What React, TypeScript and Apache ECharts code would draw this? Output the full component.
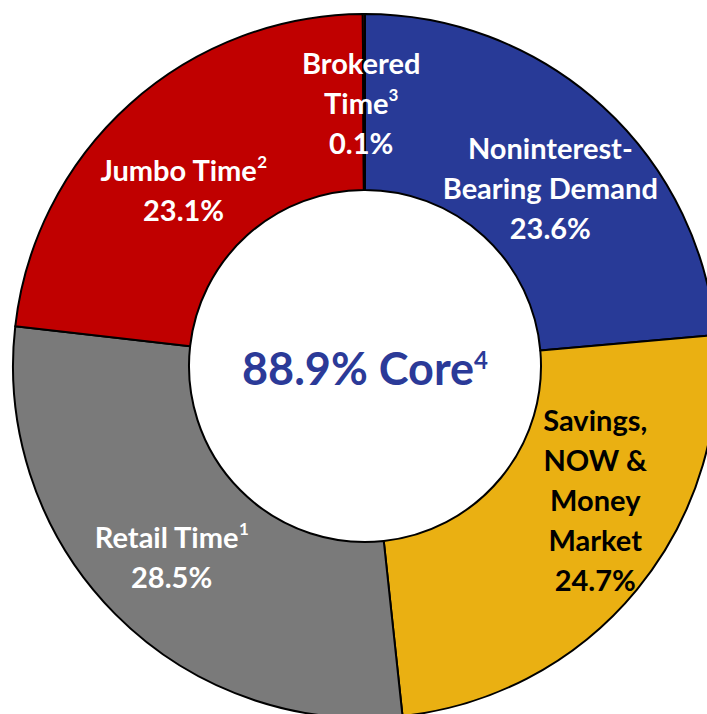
import React, { useEffect, useRef } from "react";
import * as echarts from "echarts";

const categories = [
  "Noninterest-Bearing Demand",
  "Savings, NOW & Money Market",
  "Retail Time",
  "Jumbo Time",
  "Brokered Time",
];
const values = [23.6, 24.7, 28.5, 23.1, 0.1];
const colors = ["#283A97", "#EAB012", "#7A7A7A", "#C00000", "#C00000"];
const labelColors = ["#FFFFFF", "#000000", "#FFFFFF", "#FFFFFF", "#FFFFFF"];
// label lines; the last word of a line may carry a footnote marker
const labelLines = [
  [["Noninterest-", ""], ["Bearing Demand", ""]],
  [["Savings,", ""], ["NOW &", ""], ["Money", ""], ["Market", ""]],
  [["Retail Time", "1"]],
  [["Jumbo Time", "2"]],
  [["Brokered", ""], ["Time", "3"]],
];
const labelShift = [
  [5, 18],
  [24, -36],
  [-4, 2],
  [-3, 22],
  [-3, 3],
];
const centerText = "88.9% Core";
const centerNote = "4";

const FONT = "Lato";

export default function App() {
  const ref = useRef<HTMLDivElement>(null);
  useEffect(() => {
    if (!ref.current) return;
    const chart = echarts.init(ref.current, undefined, { renderer: "svg" });
    const data = categories.map((name, i) => ({
      name,
      value: values[i],
      itemStyle: { color: colors[i] },
      label: { color: labelColors[i] },
    }));
    chart.setOption({
      animation: false,
      graphic: [
        {
          type: "text",
          x: 365,
          y: 368,
          style: {
            text: `{m|${centerText}}{s|${centerNote}}`,
            align: "center",
            verticalAlign: "middle",
            fill: "#2B3A98",
            rich: {
              m: { fontFamily: FONT, fontWeight: "bold", fontSize: 45, fill: "#2B3A98", color: "#2B3A98" },
              s: {
                fontFamily: FONT,
                fontWeight: "bold",
                fontSize: 24,
                color: "#2B3A98",
                fill: "#2B3A98",
                padding: [0, 0, 18, 0],
              },
            },
          },
          z: 100,
        },
      ],
      series: [
        {
          type: "pie",
          center: [365, 366],
          radius: [176, 352],
          startAngle: 90,
          clockwise: true,
          data,
          itemStyle: { borderColor: "#000000", borderWidth: 2 },
          emphasis: { disabled: true },
          label: {
            show: true,
            position: "inside",
            fontFamily: FONT,
            fontWeight: "bold",
            fontSize: 29,
            lineHeight: 40,
            formatter: (p: any) => {
              const lines = labelLines[p.dataIndex]
                .map(([t, n]) => (n ? `{t|${t}}{s|${n}}` : `{t|${t}}`))
                .concat([`{t|${p.value.toFixed(1)}%}`]);
              return lines.join("\n");
            },
            rich: {
              t: { fontFamily: FONT, fontWeight: "bold", fontSize: 29, lineHeight: 40 },
              s: { fontFamily: FONT, fontWeight: "bold", fontSize: 17, lineHeight: 40, padding: [0, 0, 15, 0] },
            },
          },
          labelLayout: (p: any) => ({
            dx: labelShift[p.dataIndex][0],
            dy: labelShift[p.dataIndex][1],
          }),
          labelLine: { show: false },
        },
      ],
    });
    return () => chart.dispose();
  }, []);
  return (
    <div
      ref={ref}
      style={{ position: "absolute", left: 0, top: 0, width: 707, height: 714, background: "#fff" }}
    />
  );
}
